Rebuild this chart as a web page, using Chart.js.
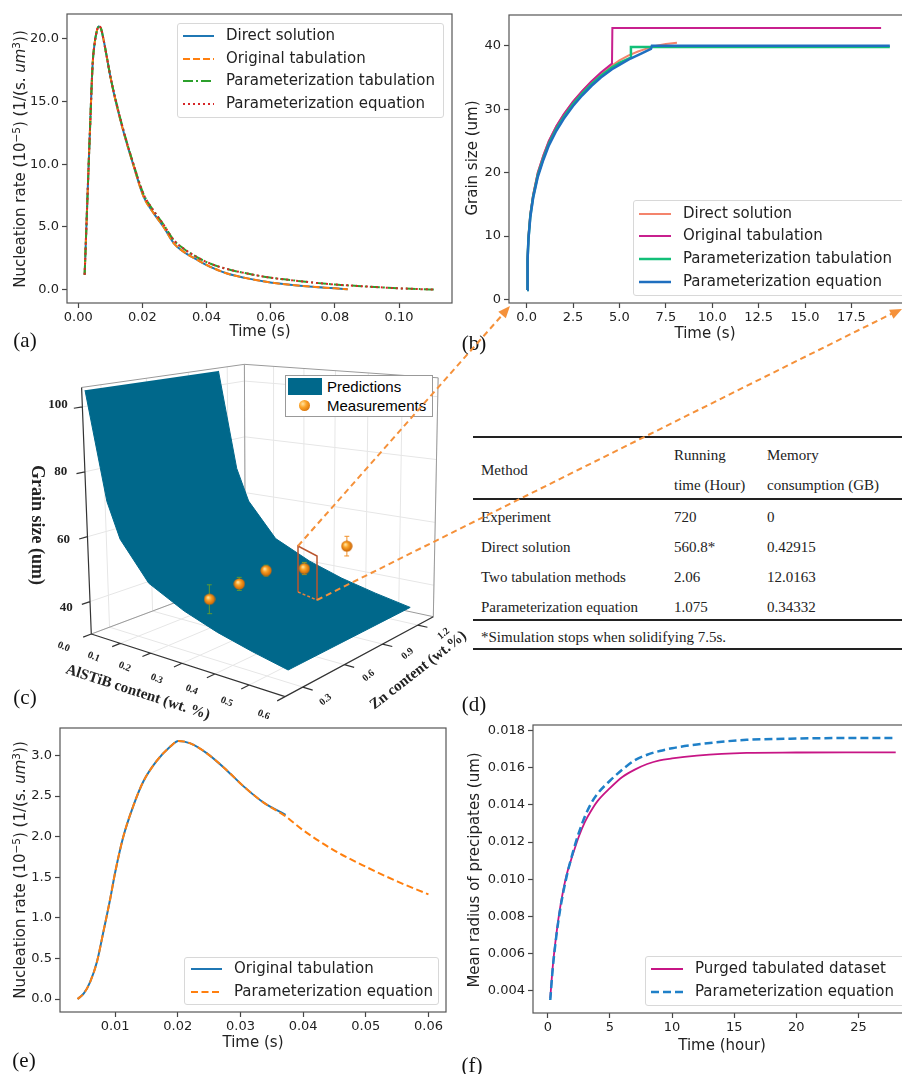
<!DOCTYPE html>
<html lang="en"><head><meta charset="utf-8"><title>Figure</title>
<script src="https://cdn.jsdelivr.net/npm/chart.js@4.4.1/dist/chart.umd.min.js"></script>
<style>
html,body{margin:0;padding:0;background:#fff;}
body{width:902px;height:1074px;position:relative;overflow:hidden;}
canvas{position:absolute;}
.t{position:absolute;white-space:nowrap;color:#222;}
.sans{font-family:"DejaVu Sans",sans-serif;font-size:15px;}
.rot{transform:translate(-50%,-50%) rotate(-90deg);}
.ctr{transform:translate(-50%,-50%);}
.plab{font-family:"Liberation Serif",serif;font-size:21px;color:#111;}
.leg{position:absolute;background:rgba(255,255,255,0.85);border:1px solid #d8d8d8;border-radius:3px;box-sizing:border-box;}
.lt{position:absolute;font-family:"DejaVu Sans",sans-serif;font-size:15px;line-height:20px;white-space:nowrap;color:#222;}
.tab{position:absolute;font-family:"Liberation Serif",serif;font-size:15px;line-height:20px;white-space:nowrap;color:#222;}
.rule{position:absolute;left:473px;width:440px;height:2px;background:#222;}
.b3{position:absolute;font-family:"Liberation Serif",serif;font-weight:bold;white-space:nowrap;color:#222;}
sup{font-size:70%;line-height:0;vertical-align:0.45em;}
</style></head><body>
<canvas id="ca"></canvas>
<canvas id="cb"></canvas>
<canvas id="cc"></canvas>
<canvas id="ce"></canvas>
<canvas id="cf"></canvas>
<script>
// ===================== DATA =====================
// (a) nucleation rate vs time
const aTimeDirect=[0.002,0.003,0.0037,0.0045,0.0051,0.0058,0.0064,0.007,0.0079,0.009,0.010,0.0115,0.0142,0.0171,0.0204,0.0235,0.0266,0.0298,0.033,0.037,0.041,0.0464,0.052,0.059,0.066,0.073,0.080,0.084];
const aRateDirect=[1.2,8.2,13.0,18.0,19.6,20.6,20.95,20.85,19.9,18.4,17.0,15.2,12.5,10.0,7.4,6.1,5.0,3.7,3.0,2.4,1.85,1.3,0.95,0.62,0.40,0.24,0.12,0.04];
const aRateOrigTab=[1.2,8.2,13.0,18.0,19.6,20.6,20.95,20.85,19.9,18.4,17.0,15.2,12.5,10.0,7.4,6.1,5.0,3.7,3.0,2.4,1.85,1.3,0.95,0.62,0.40,0.24,0.12,0.04];
const aTimeParam=[0.002,0.003,0.0037,0.0045,0.0051,0.0058,0.0064,0.007,0.0079,0.009,0.010,0.0115,0.0142,0.0171,0.0204,0.0235,0.0266,0.0298,0.033,0.037,0.041,0.0464,0.052,0.059,0.066,0.073,0.080,0.087,0.094,0.100,0.106,0.111];
const aRateParamTab=[1.2,8.2,13.0,18.0,19.6,20.6,20.95,20.85,19.9,18.4,17.0,15.3,12.6,10.1,7.6,6.3,5.2,3.95,3.25,2.6,2.1,1.65,1.33,1.0,0.78,0.58,0.42,0.31,0.2,0.12,0.06,0.02];
const aRateParamEq=[1.2,8.2,13.0,18.0,19.6,20.6,20.95,20.85,19.9,18.4,17.0,15.3,12.6,10.1,7.6,6.3,5.2,3.95,3.25,2.6,2.1,1.65,1.33,1.0,0.78,0.58,0.42,0.31,0.2,0.12,0.06,0.02];
const aXTicks=[0,0.02,0.04,0.06,0.08,0.10];
const aYTicks=[0,5,10,15,20];

// (b) grain size vs time
const bTimeDirect=[0.03,0.05,0.1,0.2,0.35,0.6,0.9,1.2,1.6,2.0,2.5,3.0,3.5,4.0,4.6,5.0,5.5,6.0,6.5,7.0,7.5,8.1];
const bGrainDirect=[1.5,6.5,10,13.5,16.5,20,22.7,25,27.3,29.2,31.2,32.9,34.4,35.6,36.9,37.7,38.5,39.1,39.6,40.0,40.3,40.5];
const bTimeOrig=[0.03,0.05,0.1,0.2,0.35,0.6,0.9,1.2,1.6,2.0,2.5,3.0,3.5,4.0,4.6,4.62,19.1];
const bGrainOrig=[1.5,6.5,10,13.5,16.5,20,22.7,25,27.3,29.2,31.2,32.9,34.4,35.8,37.2,42.8,42.8];
const bTimeParTab=[0.03,0.05,0.1,0.2,0.35,0.6,0.9,1.2,1.6,2.0,2.5,3.0,3.5,4.0,4.6,5.0,5.6,5.62,19.57];
const bGrainParTab=[1.5,6.3,9.7,13.2,16.2,19.6,22.3,24.6,26.9,28.8,30.8,32.5,34.0,35.3,36.6,37.3,38.1,39.8,39.8];
const bTimeParEq=[0.03,0.05,0.1,0.2,0.35,0.6,0.9,1.2,1.6,2.0,2.5,3.0,3.5,4.0,4.6,5.0,5.6,6.2,6.7,6.75,19.57];
const bGrainParEq=[1.5,6.2,9.5,13.0,16.0,19.3,22.0,24.3,26.6,28.5,30.5,32.2,33.7,35.0,36.3,37.0,38.0,38.8,39.5,40.0,40.0];
const bXTicks=[0,2.5,5,7.5,10,12.5,15,17.5];
const bYTicks=[0,10,20,30,40];

// (c) 3D surface + measurements
const cAlstibGrid=[0,0.06,0.1,0.19,0.3,0.4,0.5,0.6];
const cGrainPred=[105,71.8,61.2,50.1,44.8,41.4,38.9,36.8];
const cZnGrid=[0.2,1.13];
const cMeasAlstib=[0.3,0.3,0.3,0.3,0.34];
const cMeasZn=[0.37,0.58,0.78,1.085,1.34];
const cMeasGrain=[45.3,46.4,47.3,43.1,47.4];
const cMeasErr=[4.3,2.0,1.7,2.0,3.3];
const cAlTicks=[0,0.1,0.2,0.3,0.4,0.5,0.6];
const cZnTicks=[0.3,0.6,0.9,1.2];
const cGTicks=[40,60,80,100];

// (d) table
const dHead=[["Method"],["Running","time (Hour)"],["Memory","consumption (GB)"]];
const dRows=[["Experiment","720","0"],["Direct solution","560.8*","0.42915"],["Two tabulation methods","2.06","12.0163"],["Parameterization equation","1.075","0.34332"]];
const dNote="*Simulation stops when solidifying 7.5s.";

// (e) nucleation rate vs time
const eTimeOrig=[0.004,0.005,0.006,0.0071,0.0081,0.0092,0.010,0.0113,0.0129,0.0145,0.0166,0.0188,0.0201,0.022,0.0246,0.0278,0.0305,0.0337,0.0372];
const eRateOrig=[0.0,0.07,0.21,0.46,0.82,1.23,1.56,2.0,2.38,2.68,2.93,3.11,3.18,3.15,3.03,2.82,2.62,2.42,2.27];
const eTimeEq=[0.004,0.005,0.006,0.0071,0.0081,0.0092,0.010,0.0113,0.0129,0.0145,0.0166,0.0188,0.0201,0.022,0.0246,0.0278,0.0305,0.0337,0.0372,0.040,0.045,0.050,0.055,0.060];
const eRateEq=[0.0,0.07,0.21,0.46,0.82,1.23,1.56,2.0,2.38,2.68,2.93,3.11,3.18,3.15,3.03,2.82,2.62,2.42,2.25,2.08,1.83,1.63,1.45,1.29];
const eXTicks=[0.01,0.02,0.03,0.04,0.05,0.06];
const eYTicks=[0,0.5,1.0,1.5,2.0,2.5,3.0];

// (f) mean radius vs time
const fTime=[0.2,0.4,0.7,1.0,1.5,2.0,2.5,3.0,3.5,4.0,5.0,6.0,7.0,8.0,9.0,10,12,14,16,20,24,28];
const fPurged=[0.0036,0.0053,0.0071,0.0085,0.0102,0.0113,0.0123,0.0131,0.0137,0.0142,0.0149,0.0155,0.0159,0.0162,0.0164,0.0165,0.01665,0.01675,0.0168,0.01682,0.01683,0.01683];
const fParEq=[0.0035,0.0052,0.0070,0.0084,0.0101,0.0114,0.0125,0.0134,0.0141,0.0146,0.0153,0.0159,0.0164,0.0167,0.0169,0.01705,0.01725,0.0174,0.0175,0.01757,0.0176,0.0176];
const fXTicks=[0,5,10,15,20,25];
const fYTicks=[0.004,0.006,0.008,0.010,0.012,0.014,0.016,0.018];

// ===================== HELPERS =====================
Chart.defaults.font.family='DejaVu Sans';
const zip=(xs,ys)=>xs.map((x,i)=>({x:x,y:ys[i]}));
const framePlugin={id:'frame',afterDatasetsDraw(c){const a=c.chartArea,x=c.ctx;x.save();x.strokeStyle='#555';x.lineWidth=1.2;x.strokeRect(a.left,a.top,a.right-a.left,a.bottom-a.top);x.restore();}};

function mplChart(id,area,xr,yr,xt,yt,xf,yf,datasets){
  const padL=70,padT=10,padR=10,padB=30;
  const cv=document.getElementById(id);
  const W=area.r-area.l+padL+padR,H=area.b-area.t+padT+padB;
  cv.style.left=(area.l-padL)+'px';cv.style.top=(area.t-padT)+'px';
  cv.width=W;cv.height=H;cv.style.width=W+'px';cv.style.height=H+'px';
  const tickFont={family:'DejaVu Sans',size:13};
  return new Chart(cv,{type:'scatter',data:{datasets:datasets},options:{
    responsive:false,animation:false,devicePixelRatio:1,
    layout:{padding:{left:0,top:padT,right:padR,bottom:0}},
    plugins:{legend:{display:false},tooltip:{enabled:false}},
    elements:{point:{radius:0}},
    scales:{
      x:{type:'linear',min:xr[0],max:xr[1],
        afterBuildTicks:s=>{s.ticks=xt.map(v=>({value:v}));},
        afterFit:s=>{s.height=padB;s.paddingLeft=0;s.paddingRight=0;},
        grid:{display:true,drawOnChartArea:false,drawTicks:true,tickLength:5,color:'#444',tickWidth:1.2},
        border:{display:false},
        ticks:{callback:v=>xf(v),font:tickFont,color:'#222',padding:2,maxRotation:0,autoSkip:false}},
      y:{type:'linear',min:yr[0],max:yr[1],
        afterBuildTicks:s=>{s.ticks=yt.map(v=>({value:v}));},
        afterFit:s=>{s.width=padL;s.paddingTop=0;s.paddingBottom=0;},
        grid:{display:true,drawOnChartArea:false,drawTicks:true,tickLength:5,color:'#444',tickWidth:1.2},
        border:{display:false},
        ticks:{callback:v=>yf(v),font:tickFont,color:'#222',padding:3,autoSkip:false}}
    }},plugins:[framePlugin]});
}
function ds(data,color,width,dash,order,mono){
  return {data:data,showLine:true,borderColor:color,backgroundColor:color,borderWidth:width,borderDash:dash||[],order:order,pointRadius:0,fill:false,tension:0,cubicInterpolationMode:mono?'monotone':'default'};
}
function addText(html,cls,x,y,style){
  const s=document.createElement('span');s.className='t '+cls;s.innerHTML=html;
  s.style.left=x+'px';s.style.top=y+'px';if(style)s.style.cssText+=style;document.body.appendChild(s);return s;
}
function legend(cfg){
  const d=document.createElement('div');d.className='leg';
  Object.assign(d.style,{left:cfg.l+'px',top:cfg.t+'px',width:cfg.w+'px',height:cfg.h+'px'});
  document.body.appendChild(d);
  cfg.items.forEach((it,i)=>{
    const y=cfg.rows[i]-cfg.t;
    d.insertAdjacentHTML('beforeend',`<svg style="position:absolute;left:${cfg.sx-cfg.l}px;top:${y-5}px" width="${cfg.sw}" height="10"><line x1="0" y1="5" x2="${cfg.sw}" y2="5" stroke="${it.c}" stroke-width="${it.w}" ${it.d?`stroke-dasharray="${it.d}"`:''}/></svg><span class="lt" style="left:${cfg.tx-cfg.l}px;top:${y-11}px">${it.label}</span>`);
  });
}
const f1=v=>v.toFixed(1),f2=v=>v.toFixed(2),f3=v=>v.toFixed(3),f0=v=>String(Math.round(v));

// ===================== (a) =====================
const colA=['#1f77b4','#ff7f0e','#2ca02c','#d62728'];
mplChart('ca',{l:67,t:14,r:452,b:303},[-0.0035,0.1165],[-1.05,21.95],aXTicks,aYTicks,f2,f1,[
  ds(zip(aTimeDirect,aRateDirect),colA[0],2,[],4,true),
  ds(zip(aTimeDirect,aRateOrigTab),colA[1],2,[7,3],3,true),
  ds(zip(aTimeParam,aRateParamTab),colA[2],2,[10,3,2,3],2,true),
  ds(zip(aTimeParam,aRateParamEq),colA[3],2,[2,3],1,true)
]);
legend({l:177,t:23,w:267,h:95,rows:[35,58,80,103],sx:182,sw:31,tx:225,items:[
  {label:'Direct solution',c:colA[0],w:2},{label:'Original tabulation',c:colA[1],w:2,d:'7,3'},
  {label:'Parameterization tabulation',c:colA[2],w:2,d:'10,3,2,3'},{label:'Parameterization equation',c:colA[3],w:2,d:'2,3'}]});
addText('Nucleation rate (10<sup>−5</sup>) (1/(s. <i>um</i><sup>3</sup>))','sans rot',20,159);
addText('Time (s)','sans ctr',260,331);

// ===================== (b) =====================
const colB=['#f4846c','#c8208e','#12bf78','#1f6fbf'];
mplChart('cb',{l:509,t:15,r:908,b:303},[-0.95,20.55],[-0.56,44.86],bXTicks,bYTicks,f1,f0,[
  ds(zip(bTimeDirect,bGrainDirect),colB[0],2,[],4,false),
  ds(zip(bTimeOrig,bGrainOrig),colB[1],2,[],3,false),
  ds(zip(bTimeParTab,bGrainParTab),colB[2],2.5,[],2,false),
  ds(zip(bTimeParEq,bGrainParEq),colB[3],2.5,[],1,false)
]);
legend({l:633,t:200,w:280,h:96,rows:[213,235,258,281],sx:638,sw:32,tx:682,items:[
  {label:'Direct solution',c:colB[0],w:2},{label:'Original tabulation',c:colB[1],w:2},
  {label:'Parameterization tabulation',c:colB[2],w:2.5},{label:'Parameterization equation',c:colB[3],w:2.5}]});
addText('Grain size (um)','sans rot',472,158);
addText('Time (s)','sans ctr',705,333);

// ===================== (c) 3D =====================
const G3={fl:[[87,638],[287,703],[440,620],[246,578]],tp:[[77,382],[288,412],[445,372],[245,358]],h:[256,291,248,220]};
const cAx={al:[0,0.6],zn:[0.18,1.34],g:[30,106]};
function proj(al,zn,g){
  const u=(al-cAx.al[0])/(cAx.al[1]-cAx.al[0]);
  const v=(zn-cAx.zn[0])/(cAx.zn[1]-cAx.zn[0]);
  const t=(g-cAx.g[0])/(cAx.g[1]-cAx.g[0]);
  const lam=[(1-u)*(1-v),u*(1-v),u*v,(1-u)*v];
  let s=0,fx=0,fy=0,tx=0,ty=0;
  for(let i=0;i<4;i++){const w=lam[i]/G3.h[i];s+=w;fx+=w*G3.fl[i][0];fy+=w*G3.fl[i][1];tx+=w*G3.tp[i][0];ty+=w*G3.tp[i][1];}
  fx/=s;fy/=s;tx/=s;ty/=s;
  return {x:fx+t*(tx-fx),y:fy+t*(ty-fy)};
}
const NA={x:NaN,y:NaN};
function segs(pairs){const o=[];pairs.forEach(p=>{o.push(p[0],p[1],NA);});return o;}
const [alMin,alMax]=cAx.al,[znMin,znMax]=cAx.zn,[gMin,gMax]=cAx.g;
const gridP=[];
cGTicks.forEach(g=>{gridP.push([proj(alMin,znMin,g),proj(alMin,znMax,g)]);gridP.push([proj(alMin,znMax,g),proj(alMax,znMax,g)]);});
cZnTicks.forEach(z=>{gridP.push([proj(alMin,z,gMin),proj(alMin,z,gMax)]);gridP.push([proj(alMin,z,gMin),proj(alMax,z,gMin)]);});
cAlTicks.forEach(a=>{gridP.push([proj(a,znMax,gMin),proj(a,znMax,gMax)]);gridP.push([proj(a,znMin,gMin),proj(a,znMax,gMin)]);});
const edgeP=[
  [proj(alMin,znMin,gMax),proj(alMin,znMax,gMax)],[proj(alMin,znMax,gMax),proj(alMax,znMax,gMax)],
  [proj(alMin,znMax,gMin),proj(alMin,znMax,gMax)],[proj(alMax,znMax,gMin),proj(alMax,znMax,gMax)],
  [proj(alMin,znMin,gMin),proj(alMin,znMax,gMin)],[proj(alMin,znMax,gMin),proj(alMax,znMax,gMin)]];
const axisP=[[proj(alMin,znMin,gMin),proj(alMin,znMin,gMax)],[proj(alMin,znMin,gMin),proj(alMax,znMin,gMin)],[proj(alMax,znMin,gMin),proj(alMax,znMax,gMin)]];
const dzn=0.045*(znMax-znMin),dal=0.045*(alMax-alMin);
cGTicks.forEach(g=>axisP.push([proj(alMin,znMin,g),proj(alMin,znMin-dzn,g)]));
cAlTicks.forEach(a=>axisP.push([proj(a,znMin,gMin),proj(a,znMin-dzn,gMin)]));
cZnTicks.forEach(z=>axisP.push([proj(alMax,z,gMin),proj(alMax+dal,z,gMin)]));
const surf=[];
cAlstibGrid.forEach((a,i)=>surf.push(proj(a,cZnGrid[0],cGrainPred[i])));
for(let i=cAlstibGrid.length-1;i>=0;i--)surf.push(proj(cAlstibGrid[i],cZnGrid[1],cGrainPred[i]));
const meas=cMeasAlstib.map((a,i)=>proj(a,cMeasZn[i],cMeasGrain[i]));
const errP=[];
cMeasAlstib.forEach((a,i)=>{
  const lo=proj(a,cMeasZn[i],cMeasGrain[i]-cMeasErr[i]),hi=proj(a,cMeasZn[i],cMeasGrain[i]+cMeasErr[i]);
  errP.push([lo,hi],[{x:lo.x-2.5,y:lo.y},{x:lo.x+2.5,y:lo.y}],[{x:hi.x-2.5,y:hi.y},{x:hi.x+2.5,y:hi.y}]);
});
const errColors=['#5e9a33','#5e9a33','#5e9a33','#8a9a2a','#f0902a'];
const ball=document.createElement('canvas');ball.width=12;ball.height=12;
(function(){const b=ball.getContext('2d');const gr=b.createRadialGradient(4.5,4.2,0.5,6,6,6);gr.addColorStop(0,'#ffe3a0');gr.addColorStop(0.35,'#fca428');gr.addColorStop(1,'#c45c00');b.fillStyle=gr;b.beginPath();b.arc(6,6,5.6,0,Math.PI*2);b.fill();})();
(function(){
  const cv=document.getElementById('cc');
  cv.style.left='0px';cv.style.top='340px';cv.width=450;cv.height=380;cv.style.width='450px';cv.style.height='380px';
  new Chart(cv,{type:'scatter',data:{datasets:[
    {data:segs(gridP),showLine:true,borderColor:'#e6e6e6',borderWidth:1,pointRadius:0,order:6,spanGaps:false},
    {data:segs(edgeP),showLine:true,borderColor:'#9a9a9a',borderWidth:1,pointRadius:0,order:5,spanGaps:false},
    {data:surf,showLine:true,borderColor:'#00688b',backgroundColor:'#00688b',borderWidth:1,pointRadius:0,fill:'shape',order:4},
    {data:segs(axisP),showLine:true,borderColor:'#333',borderWidth:1.2,pointRadius:0,order:3,spanGaps:false},
    {data:segs(errP),showLine:true,borderWidth:1,pointRadius:0,order:2,spanGaps:false,borderColor:'#5e9a33',
      segment:{borderColor:c=>errColors[Math.floor(c.p0DataIndex/9)]}},
    {data:meas,showLine:false,pointStyle:ball,pointRadius:6,order:1}
  ]},options:{responsive:false,animation:false,devicePixelRatio:1,layout:{padding:0},
    plugins:{legend:{display:false},tooltip:{enabled:false}},
    scales:{x:{type:'linear',min:0,max:450,display:false},y:{type:'linear',min:340,max:720,reverse:true,display:false}}}});
})();
cGTicks.forEach(g=>{const p=proj(alMin,znMin-dzn,g);addText(String(g),'b3 ctr',p.x-11,p.y,'font-size:13px;');});
cAlTicks.forEach(a=>{const p=proj(a,znMin-2.4*dzn,gMin);addText(a.toFixed(1),'b3',p.x-3,p.y,'font-size:10px;transform:translate(-50%,-50%) rotate(22deg);');});
cZnTicks.forEach(z=>{const p=proj(alMax+1.9*dal,z,gMin);addText(z.toFixed(1),'b3',p.x,p.y,'font-size:10px;transform:translate(-50%,-50%) rotate(-40deg);');});
addText('Grain size (um)','b3',37,525,'font-size:18px;transform:translate(-50%,-50%) rotate(90deg);');
addText('AlSTiB content (wt. %)','b3',138,692,'font-size:15px;transform:translate(-50%,-50%) rotate(18deg);');
addText('Zn content (wt.%)','b3',418,670,'font-size:15px;transform:translate(-50%,-50%) rotate(-38deg);');
(function(){
  const d=document.createElement('div');d.className='leg';
  Object.assign(d.style,{left:'285px',top:'375px',width:'148px',height:'42px',border:'1px solid #999',borderRadius:'0',background:'#fff'});
  d.innerHTML='<div style="position:absolute;left:2px;top:2px;width:34px;height:17px;background:#00688b"></div>'+
   '<span style="position:absolute;left:41px;top:1px;font:15px \'Liberation Sans\',sans-serif;line-height:19px">Predictions</span>'+
   '<div style="position:absolute;left:13px;top:24px;width:11px;height:11px;border-radius:50%;background:radial-gradient(circle at 35% 35%,#ffe3a0 0%,#fca428 35%,#c45c00 100%)"></div>'+
   '<span style="position:absolute;left:41px;top:20px;font:15px \'Liberation Sans\',sans-serif;line-height:19px">Measurements</span>';
  document.body.appendChild(d);
})();

// ===================== (d) table =====================
(function(){
  const colX=[481,674,767];
  [437,499,620,649].forEach(y=>{const r=document.createElement('div');r.className='rule';r.style.top=(y-1)+'px';document.body.appendChild(r);});
  const tx=(s,x,yc)=>{const e=document.createElement('span');e.className='tab';e.textContent=s;e.style.left=x+'px';e.style.top=(yc-10)+'px';document.body.appendChild(e);};
  tx(dHead[0][0],colX[0],470);
  tx(dHead[1][0],colX[1],455);tx(dHead[1][1],colX[1],485);
  tx(dHead[2][0],colX[2],455);tx(dHead[2][1],colX[2],485);
  const ry=[517,547,577,607];
  dRows.forEach((r,i)=>r.forEach((c,j)=>tx(c,colX[j],ry[i])));
  tx(dNote,colX[0],637);
})();

// ===================== (e) =====================
const colE=['#1f77b4','#ff7f0e'];
mplChart('ce',{l:60,t:728,r:446,b:1012},[0.0012,0.0628],[-0.159,3.339],eXTicks,eYTicks,f2,f1,[
  ds(zip(eTimeOrig,eRateOrig),colE[0],2,[],2,true),
  ds(zip(eTimeEq,eRateEq),colE[1],2,[7,3.5],1,true)
]);
legend({l:184,t:957,w:255,h:48,rows:[968,991],sx:190,sw:31,tx:233,items:[
  {label:'Original tabulation',c:colE[0],w:2},{label:'Parameterization equation',c:colE[1],w:2,d:'7,3.5'}]});
addText('Nucleation rate (10<sup>−5</sup>) (1/(s. <i>um</i><sup>3</sup>))','sans rot',20,870);
addText('Time (s)','sans ctr',253,1042);

// ===================== (f) =====================
const colF=['#c71585','#1f80c8'];
mplChart('cf',{l:533,t:725,r:913,b:1013},[-1.19,29.39],[0.0028,0.0183],fXTicks,fYTicks,f0,f3,[
  ds(zip(fTime,fPurged),colF[0],1.8,[],2,true),
  ds(zip(fTime,fParEq),colF[1],2.5,[8,4],1,true)
]);
legend({l:645,t:956,w:270,h:50,rows:[968,991],sx:650,sw:32,tx:694,items:[
  {label:'Purged tabulated dataset',c:colF[0],w:2},{label:'Parameterization equation',c:colF[1],w:2.5,d:'8,4'}]});
addText('Mean radius of precipates (um)','sans rot',474,870);
addText('Time (hour)','sans ctr',722,1045);

// ===================== panel letters =====================
[['(a)',25,340],['(b)',474,343],['(c)',25,697],['(d)',474,704],['(e)',24,1060],['(f)',472,1065]].forEach(p=>addText(p[0],'plab ctr',p[1],p[2]));
</script>
<svg width="902" height="1074" style="position:absolute;left:0;top:0;pointer-events:none">
  <g fill="none" stroke="#b9552e" stroke-width="1.5">
    <polyline points="298,592 298,546 317,556 317,600"/>
  </g>
  <line x1="298" y1="592" x2="317" y2="600" stroke="#e8803a" stroke-width="1.5" stroke-dasharray="3,2"/>
  <g stroke="#f5913a" stroke-width="2" stroke-dasharray="6,4" fill="none">
    <line x1="298" y1="546" x2="504" y2="313"/>
    <line x1="317" y1="600" x2="893" y2="313"/>
  </g>
  <polygon points="510,306 505.8,318.3 498.3,311.7" fill="#f5913a"/>
  <polygon points="902,309 893.5,318.8 889.1,309.8" fill="#f5913a"/>
</svg>
</body></html>
